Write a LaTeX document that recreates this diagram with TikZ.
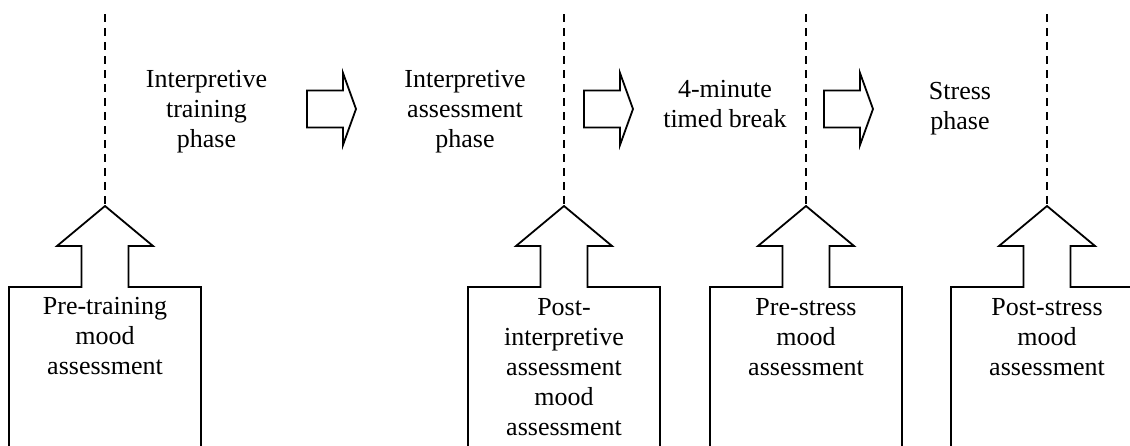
\documentclass[tikz,border=0pt]{standalone}
\usepackage{fontspec}
\setmainfont{Liberation Serif}
\tikzset{
  phase/.style={align=center, inner sep=0pt, anchor=north, font=\fontsize{26}{30}\selectfont},
  divider/.style={line width=1.8pt, dash pattern=on 7.5pt off 6.5pt},
  moodbox/.pic={
    \draw[line width=1.8pt] (-96,250) -- (-96,81) -- (-23.5,81) -- (-23.5,40) -- (-48,40)
      -- (0,0) -- (48,40) -- (23.5,40) -- (23.5,81) -- (96,81) -- (96,250);
  },
  nextarrow/.pic={
    \draw[line width=1.8pt] (0,-18.5) -- (36,-18.5) -- (36,-36) -- (49,0)
      -- (36,36) -- (36,18.5) -- (0,18.5) -- cycle;
  }
}
\begin{document}
\begin{tikzpicture}[x=1pt,y=-1pt]
      \useasboundingbox (0,0) rectangle (1130,445);
      \clip (0,0) rectangle (1130,445);
      \coordinate (d1) at (105,14);
      \coordinate (d2) at (564,14);
      \coordinate (d3) at (806,14);
      \coordinate (d4) at (1047,14);
      \coordinate (t1) at (105,206);
      \coordinate (t2) at (564,206);
      \coordinate (t3) at (806,206);
      \coordinate (t4) at (1047,206);
      \draw[divider] (d1) -- (t1);
      \draw[divider] (d2) -- (t2);
      \draw[divider] (d3) -- (t3);
      \draw[divider] (d4) -- (t4);
      \pic at (t1) {moodbox};
      \pic at (t2) {moodbox};
      \pic at (t3) {moodbox};
      \pic at (t4) {moodbox};
      \pic at (307,109) {nextarrow};
      \pic at (584,109) {nextarrow};
      \pic at (824,109) {nextarrow};
      \node[phase] (training) at (206.5,70.5) {Interpretive\\training\\phase};
      \node[phase] (assessment) at (465,70.5) {Interpretive\\assessment\\phase};
      \node[phase] (break) at (725,80.2) {4-minute\\timed break};
      \node[phase] (stress) at (960,82.4) {Stress\\phase};
      \node[phase] (pretraining) at (105,297.2) {Pre-training\\mood\\assessment};
      \node[phase] (postinterp) at (564,297.8) {Post-\\interpretive\\assessment\\mood\\assessment};
      \node[phase] (prestress) at (806,297.8) {Pre-stress\\mood\\assessment};
      \node[phase] (poststress) at (1047,297.8) {Post-stress\\mood\\assessment};
    \end{tikzpicture}
\end{document}
